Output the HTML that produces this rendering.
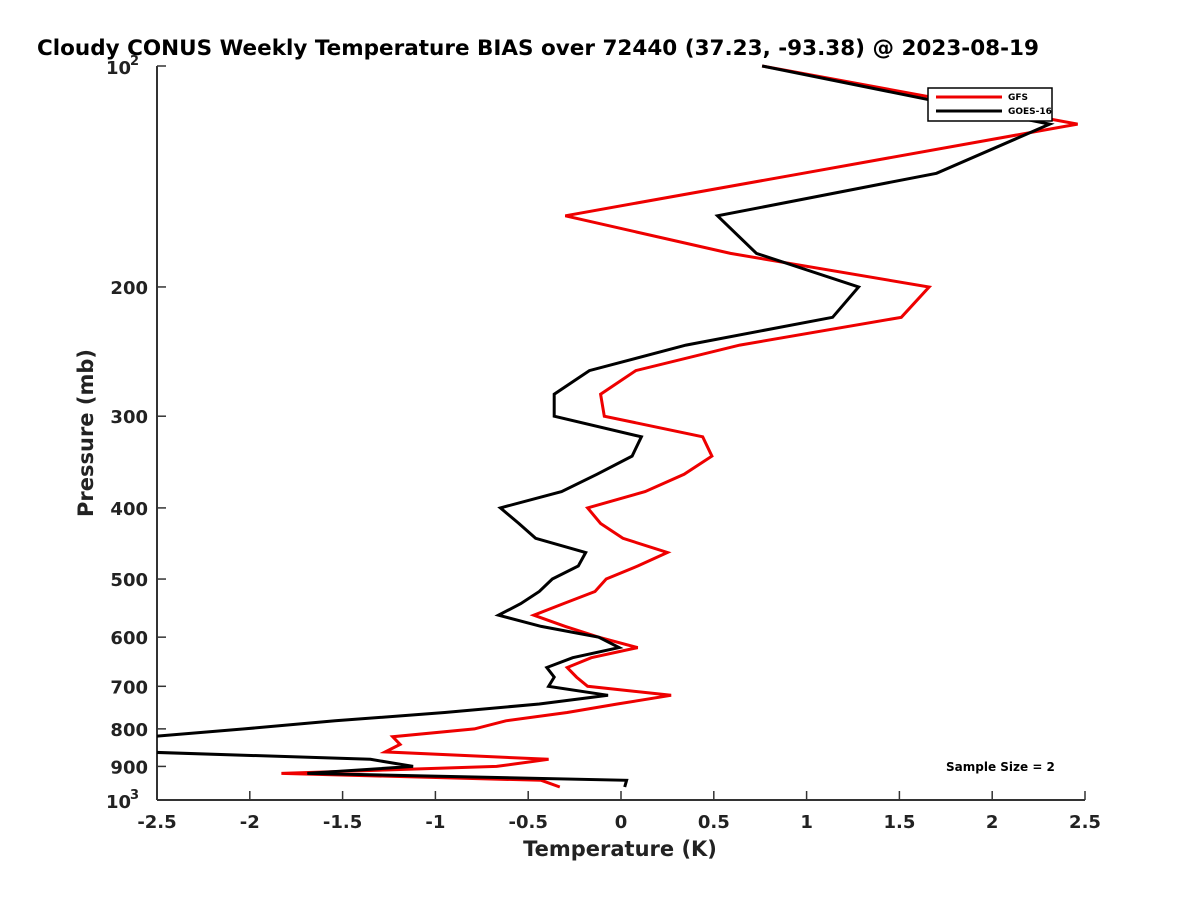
<!DOCTYPE html>
<html><head><meta charset="utf-8"><style>
body{margin:0;background:#fff;}
svg{display:block;font-family:"DejaVu Sans","Liberation Sans",sans-serif;font-weight:bold;}
</style></head><body>
<svg width="1200" height="900" id="chart">
<defs><clipPath id="clip"><rect x="157" y="60" width="940" height="740"/></clipPath></defs>
<text x="37" y="55" font-size="21.5" fill="#000">Cloudy CONUS Weekly Temperature BIAS over 72440 (37.23, -93.38) @ 2023-08-19</text>
<g id="axes"></g>
<g id="series" clip-path="url(#clip)"></g>
<g>
<rect x="928" y="88" width="124" height="33" fill="#fff" stroke="#000" stroke-width="1.5"/>
<line x1="936" y1="97" x2="1002" y2="97" stroke="#e00" stroke-width="3"/>
<text x="1008" y="100" font-size="9">GFS</text>
<line x1="936" y1="111" x2="1002" y2="111" stroke="#000" stroke-width="3"/>
<text x="1008" y="114" font-size="9">GOES-16</text>
</g>
<text x="946" y="771" font-size="12">Sample Size = 2</text>
<text x="620" y="856" font-size="21" text-anchor="middle" fill="#222">Temperature (K)</text>
<text transform="translate(93,433) rotate(-90)" font-size="21" text-anchor="middle" fill="#222">Pressure (mb)</text>
</svg>
<script>
const pressures=[100,120,140,160,180,200,220,240,260,280,300,320,340,360,380,400,420,440,460,480,500,520,540,560,580,600,620,640,660,680,700,720,740,760,780,800,820,840,860,880,900,920,940,960];
const goesBias=[0.76,2.31,1.70,0.52,0.73,1.28,1.14,0.35,-0.17,-0.36,-0.36,0.11,0.06,-0.13,-0.32,-0.65,-0.55,-0.46,-0.19,-0.23,-0.37,-0.44,-0.54,-0.66,-0.43,-0.12,-0.01,-0.26,-0.40,-0.36,-0.39,-0.07,-0.44,-0.95,-1.54,-2.03,-2.54,-2.81,-2.59,-1.35,-1.12,-1.69,0.03,0.02];
const gfsBias=[0.76,2.46,0.98,-0.30,0.59,1.66,1.51,0.64,0.08,-0.11,-0.09,0.44,0.49,0.34,0.13,-0.18,-0.11,0.01,0.25,0.09,-0.08,-0.14,-0.31,-0.47,-0.30,-0.12,0.09,-0.16,-0.29,-0.24,-0.18,0.27,-0.02,-0.29,-0.62,-0.79,-1.23,-1.19,-1.27,-0.39,-0.67,-1.83,-0.43,-0.33];
const xTicks=[-2.5,-2,-1.5,-1,-0.5,0,0.5,1,1.5,2,2.5];
const yTicks=[200,300,400,500,600,700,800,900];
const NS="http://www.w3.org/2000/svg";
const X0=157,X1=1085,Y0=66,Y1=800;
function xs(v){return X0+(v+2.5)/5*(X1-X0);}
function ys(p){return Y0+Math.log10(p/100)*(Y1-Y0);}
function mk(t,a,parent){const e=document.createElementNS(NS,t);for(const k in a)e.setAttribute(k,a[k]);parent.appendChild(e);return e;}
const ax=document.getElementById('axes');
let l=mk('line',{x1:X0,y1:Y0,x2:X0,y2:Y1,stroke:'#333','stroke-width':2},ax);


l=mk('line',{x1:X0,y1:Y1,x2:X1,y2:Y1,stroke:'#333','stroke-width':2},ax);


xTicks.forEach(v=>{const x=xs(v);mk('line',{x1:x,y1:Y1,x2:x,y2:Y1-9,stroke:'#333','stroke-width':1.5},ax);
const t=mk('text',{x:x,y:828,'font-size':18,'text-anchor':'middle',fill:'#222'},ax);t.textContent=String(v);

});
mk('line',{x1:X0,y1:Y0,x2:X0+9,y2:Y0,stroke:'#333','stroke-width':1.5},ax);
yTicks.forEach(p=>{const y=ys(p);mk('line',{x1:X0,y1:y,x2:X0+9,y2:y,stroke:'#333','stroke-width':1.5},ax);
const t=mk('text',{x:148,y:y+7,'font-size':18,'text-anchor':'end',fill:'#222'},ax);t.textContent=String(p);

});
[[100,'2'],[1000,'3']].forEach(([p,e])=>{const y=ys(p);const t=mk('text',{x:106,y:y+8,'font-size':18,fill:'#222'},ax);t.textContent='10';


const s=mk('text',{x:130,y:y-1,'font-size':13,fill:'#222'},ax);s.textContent=e;});
const sg=document.getElementById('series');
function line(vals,col,name){const d=vals.map((v,i)=>(i?'L':'M')+xs(v).toFixed(1)+','+ys(pressures[i]).toFixed(1)).join('');
const p=mk('path',{d:d,fill:'none',stroke:col,'stroke-width':3,'stroke-linejoin':'miter'},sg);

}
line(gfsBias,'#e00','gfs-line');
line(goesBias,'#000','goes16-line');
</script>
</body></html>
